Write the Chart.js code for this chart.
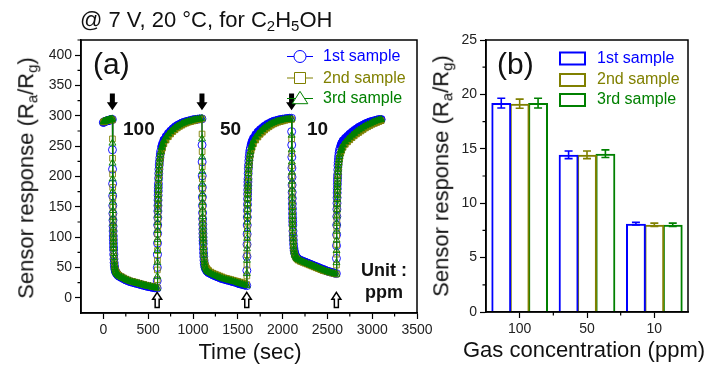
<!DOCTYPE html>
<html>
<head>
<meta charset="utf-8">
<script src="https://cdn.jsdelivr.net/npm/chart.js@4.4.0/dist/chart.umd.min.js"></script>
<style>
html, body { margin: 0; padding: 0; background: #fff; }
body { width: 711px; height: 369px; position: relative; overflow: hidden; font-family: 'Liberation Sans', Arial, sans-serif; color: #111; }
.box { position: absolute; top: 0; height: 369px; }
.t { position: absolute; line-height: 1; white-space: nowrap; }
.s { font-size: 0.68em; vertical-align: -0.3em; }
.b { font-weight: bold; }
</style>
</head>
<body>
<div class="box" style="left:0;width:445px"><canvas id="timeChart"></canvas></div>
<div class="box" style="left:420px;width:291px"><canvas id="barChart"></canvas></div>

<div class="t" style="left:80px;top:9px;font-size:22px">@ 7 V, 20 °C, for C<span class="s">2</span>H<span class="s">5</span>OH</div>
<div class="t" style="left:93px;top:49px;font-size:30px">(a)</div>
<div class="t" style="left:497px;top:49px;font-size:30px">(b)</div>
<div class="t b" style="left:123px;top:119px;font-size:19px">100</div>
<div class="t b" style="left:220px;top:119px;font-size:19px">50</div>
<div class="t b" style="left:307px;top:119px;font-size:19px">10</div>
<div class="t b" style="left:361px;top:261px;font-size:18px">Unit :</div>
<div class="t b" style="left:365px;top:283px;font-size:18px">ppm</div>

<div class="t" style="left:323px;top:48px;font-size:16px;color:#0000ff">1st sample</div>
<div class="t" style="left:323px;top:70px;font-size:16px;color:#808000">2nd sample</div>
<div class="t" style="left:323px;top:90px;font-size:16px;color:#008000">3rd sample</div>
<div class="t" style="left:597px;top:50px;font-size:16px;color:#0000ff">1st sample</div>
<div class="t" style="left:597px;top:71px;font-size:16px;color:#808000">2nd sample</div>
<div class="t" style="left:597px;top:91px;font-size:16px;color:#008000">3rd sample</div>

<div class="t" style="left:28px;top:178px;font-size:22px;transform:translate(-50%,-50%) rotate(-90deg)">Sensor response (R<span class="s">a</span>/R<span class="s">g</span>)</div>
<div class="t" style="left:443px;top:176px;font-size:22px;transform:translate(-50%,-50%) rotate(-90deg)">Sensor response (R<span class="s">a</span>/R<span class="s">g</span>)</div>
<div class="t" style="left:250px;top:341px;font-size:22px;transform:translateX(-50%)">Time (sec)</div>
<div class="t" style="left:584px;top:339px;font-size:22px;transform:translateX(-50%)">Gas concentration (ppm)</div>

<script>
// time axis (sec), shared by the three samples
const times = [
	0, 10, 20, 30, 40, 50, 60, 70, 80, 90,
	100, 101, 102, 103, 104, 105, 106, 107, 108, 109, 110, 111, 112, 113, 114, 116, 118, 120, 123, 126, 130, 135, 140, 150, 160, 175, 200, 225, 250, 275, 300, 325, 350, 375, 400, 425, 450, 475, 500, 525, 550, 575,
	600, 601, 602, 603, 604, 605, 606, 607, 608, 609, 610, 611, 612, 613, 614, 616, 618, 620, 623, 626, 630, 635, 640, 650, 660, 675, 700, 725, 750, 775, 800, 825, 850, 875, 900, 925, 950, 975, 1000, 1025, 1050, 1075,
	1100, 1101, 1102, 1103, 1104, 1105, 1106, 1107, 1108, 1109, 1110, 1111, 1112, 1113, 1114, 1116, 1118, 1120, 1123, 1126, 1130, 1135, 1140, 1150, 1160, 1175, 1200, 1225, 1250, 1275, 1300, 1325, 1350, 1375, 1400, 1425, 1450, 1475, 1500, 1525, 1550, 1575,
	1600, 1601, 1602, 1603, 1604, 1605, 1606, 1607, 1608, 1609, 1610, 1611, 1612, 1613, 1614, 1616, 1618, 1620, 1623, 1626, 1630, 1635, 1640, 1650, 1660, 1675, 1700, 1725, 1750, 1775, 1800, 1825, 1850, 1875, 1900, 1925, 1950, 1975, 2000, 2025, 2050, 2075,
	2100, 2101, 2102, 2103, 2104, 2105, 2106, 2107, 2108, 2109, 2110, 2111, 2112, 2113, 2114, 2116, 2118, 2120, 2123, 2126, 2130, 2135, 2140, 2150, 2160, 2175, 2200, 2225, 2250, 2275, 2300, 2325, 2350, 2375, 2400, 2425, 2450, 2475, 2500, 2525, 2550, 2575,
	2600, 2601, 2602, 2603, 2604, 2605, 2606, 2607, 2608, 2609, 2610, 2611, 2612, 2613, 2614, 2616, 2618, 2620, 2623, 2626, 2630, 2635, 2640, 2650, 2660, 2675, 2700, 2725, 2750, 2775, 2800, 2825, 2850, 2875, 2900, 2925, 2950, 2975, 3000, 3025, 3050, 3075,
	3100
];

const sample1 = [
	289, 290, 291, 291, 292, 292, 293, 293, 293, 294,
	294, 244, 212, 188, 168, 152, 139, 128, 118, 110, 102, 96, 90, 84, 79, 71, 64, 58, 53, 49, 46, 43.5, 41.5, 39.5, 37.5, 35.5, 33.5, 31.5, 29.5, 28, 26.5, 25.5, 24.5, 23.5, 22.5, 21.5, 20.5, 19.5, 18.5, 18, 17, 16.5,
	16, 28, 50, 71, 90, 106, 120, 132, 143, 152, 161, 169, 176, 182, 188, 197, 205, 212, 219, 225, 231, 237, 242, 249, 254, 260, 266, 271, 275, 278.5, 281.5, 284, 286, 288, 289.5, 290.5, 291.5, 292.5, 293.5, 294, 294.5, 295,
	295, 252, 224, 201, 182, 166, 152, 140, 130, 121, 113, 106, 100, 94, 89, 81, 74, 68, 62, 57, 53, 50, 48, 45.5, 43.5, 41.5, 39.5, 37.5, 36, 34.5, 33, 31.5, 30.5, 29.5, 28.5, 27.5, 26.5, 25.5, 24, 23, 22, 21,
	20, 45, 68, 88, 105, 120, 133, 144, 154, 163, 171, 178, 185, 191, 196, 205, 213, 219, 226, 232, 238, 243, 247, 253, 258, 263, 269, 273.5, 277, 280, 283, 285.5, 287.5, 289.5, 291, 292, 293, 294, 294.5, 295, 295.5, 296,
	296, 274, 252, 232, 214, 199, 186, 174, 164, 155, 147, 139, 132, 126, 120, 110, 102, 95, 88, 82, 78, 74, 71.5, 68, 66, 64, 62, 60.5, 59, 57.5, 56, 54.5, 53, 51.5, 50, 48.5, 47, 45.5, 44, 43, 42, 41,
	40, 65, 86, 104, 120, 134, 146, 156, 165, 173, 180, 187, 193, 198, 203, 211, 218, 223, 229, 234, 239, 243, 246, 251, 255, 259, 263, 266.5, 270, 273, 276, 278.5, 281, 283, 285, 287, 288.5, 290, 291, 292, 293, 294,
	294
];

const sample2 = [
	290, 290, 291, 292, 292, 292, 293, 293, 294, 294,
	293, 262, 230, 204, 182, 164, 149, 136, 125, 116, 108, 101, 94, 88, 83, 75, 68, 62, 55, 51, 48, 45, 43, 41, 39, 37, 35, 33, 31, 29.5, 28, 27, 26, 25, 24, 23, 22, 21, 20, 19.5, 18.5, 18,
	17, 30, 46, 62, 78, 92, 105, 117, 128, 138, 147, 155, 163, 170, 176, 186, 195, 202, 210, 216, 223, 229, 234, 242, 247, 254, 260, 265.5, 270, 274, 277, 280, 282.5, 284.5, 286.5, 288, 289.5, 290.5, 291.5, 292.5, 293.5, 294,
	295, 270, 241, 216, 196, 179, 164, 151, 140, 130, 122, 114, 107, 101, 96, 87, 80, 74, 67, 62, 58, 55, 52.5, 49.5, 47, 45, 42.5, 40.5, 39, 37.5, 36, 34.5, 33, 32, 31, 30, 29, 28, 27, 26, 25, 24,
	22, 36, 54, 71, 87, 101, 114, 126, 137, 147, 156, 164, 171, 177, 183, 192, 200, 206, 213, 219, 225, 231, 236, 243, 248, 254, 260, 265, 269.5, 273, 276.5, 279.5, 282, 284.5, 286.5, 288, 289.5, 290.5, 291.5, 292.5, 293.5, 294,
	294, 262, 238, 218, 201, 186, 173, 162, 152, 143, 135, 128, 122, 116, 111, 102, 95, 89, 83, 78, 74, 71, 69, 66, 64, 62, 60, 58.5, 57, 55.5, 54, 52.5, 51, 49.5, 48, 46.5, 45, 44, 43, 42, 41, 40,
	39, 54, 72, 88, 102, 115, 127, 138, 147, 156, 164, 171, 177, 183, 188, 196, 203, 208, 214, 219, 224, 229, 233, 239, 243, 248, 253, 257, 260.5, 264, 267, 270, 272.5, 275, 277.5, 280, 282, 284, 286, 287.5, 289, 290.5,
	292
];

const sample3 = [
	290, 291, 291, 292, 292, 293, 293, 294, 294, 294,
	295, 255, 222, 196, 175, 158, 144, 132, 122, 113, 105, 98, 92, 86, 81, 73, 66, 60, 54, 50, 47, 44, 42, 40, 38, 36, 34, 32, 30, 28.5, 27, 26, 25, 24, 23, 22, 21, 20, 19, 18.5, 17.5, 17,
	16, 35, 58, 78, 96, 111, 124, 136, 146, 155, 163, 170, 177, 183, 188, 197, 205, 211, 218, 224, 230, 236, 241, 248, 253, 259, 265, 270, 274, 277.5, 280.5, 283, 285, 287, 288.5, 290, 291, 292, 293, 294, 294.5, 295,
	296, 262, 232, 208, 188, 171, 157, 145, 134, 125, 117, 110, 103, 97, 92, 83, 76, 70, 63, 58, 54, 51, 49, 46, 44, 42, 40, 38, 36.5, 35, 33.5, 32, 31, 30, 29, 28, 27, 26, 24.5, 23.5, 22.5, 21.5,
	20, 40, 62, 81, 98, 112, 125, 136, 146, 155, 163, 170, 177, 183, 188, 197, 205, 211, 218, 224, 230, 236, 241, 248, 253, 259, 265, 270, 274, 277.5, 280.5, 283, 285.5, 287.5, 289, 290.5, 291.5, 292.5, 293.5, 294, 294.5, 295,
	295, 268, 244, 224, 207, 192, 179, 168, 158, 149, 141, 134, 127, 121, 115, 106, 98, 92, 85, 80, 76, 72, 70, 67, 65, 63, 61, 59.5, 58, 56.5, 55, 53.5, 52, 50.5, 49, 47.5, 46, 44.5, 43, 42, 41, 40,
	39, 58, 78, 95, 110, 123, 135, 145, 154, 162, 169, 176, 182, 187, 192, 200, 207, 212, 218, 223, 228, 233, 237, 243, 247, 252, 257, 261, 264.5, 268, 271, 274, 276.5, 279, 281.5, 283.5, 285.5, 287, 289, 290.5, 292, 293,
	294
];

const timeTicks = [0, 500, 1000, 1500, 2000, 2500, 3000, 3500];
const responseTicks = [0, 50, 100, 150, 200, 250, 300, 350, 400];
const gasInTimes = [100, 1100, 2100];
const gasOutTimes = [600, 1600, 2600];

// panel (b)
const concLabels = ['100', '50', '10'];
const resp1 = [19.2, 14.45, 8.12];
const resp2 = [19.15, 14.45, 8.02];
const resp3 = [19.2, 14.55, 8.02];
const err1 = [0.45, 0.35, 0.12];
const err2 = [0.42, 0.35, 0.15];
const err3 = [0.45, 0.35, 0.15];
const barTicks = [0, 5, 10, 15, 20, 25];

const BLUE = '#0000ff';
const OLIVE = '#808000';
const GREEN = '#008000';

Chart.defaults.font.family = "'Liberation Sans', Arial, sans-serif";

const axisFont = {size: 14};
const gridStyle = {display: true, drawOnChartArea: false, drawTicks: true, tickLength: 6, tickWidth: 1.2, tickColor: '#000'};
const borderStyle = {display: true, color: '#000', width: 1.5};
const tickStyle = {font: axisFont, color: '#222', padding: 3, maxRotation: 0, autoSkip: false, callback: v => String(v)};
const catTickStyle = {font: axisFont, color: '#222', padding: 3, maxRotation: 0, autoSkip: false};

// slow parts of the curve (sparse time steps) show as a solid band
function isSlow(i) {
	const prev = i > 0 ? times[i] - times[i - 1] : 99;
	const next = i < times.length - 1 ? times[i + 1] - times[i] : 99;
	return Math.min(prev, next) >= 10;
}

function makeSeries(label, values, color, style, order) {
	return {
		label: label,
		data: times.map((t, i) => ({x: t, y: values[i]})),
		borderColor: color,
		borderWidth: 1,
		pointStyle: style,
		pointRadius: 4,
		pointBorderWidth: 0.9,
		pointBorderColor: color,
		pointBackgroundColor: c => isSlow(c.dataIndex) ? color : 'rgba(255,255,255,0)',
		tension: 0,
		order: order
	};
}

function drawMarker(ctx, style, x, y, r) {
	ctx.beginPath();
	if (style === 'circle') {
		ctx.arc(x, y, r, 0, Math.PI * 2);
	} else if (style === 'rect') {
		ctx.rect(x - r, y - r, 2 * r, 2 * r);
	} else {
		ctx.moveTo(x, y - r * 1.1);
		ctx.lineTo(x + r * 1.2, y + r * 0.8);
		ctx.lineTo(x - r * 1.2, y + r * 0.8);
		ctx.closePath();
	}
	ctx.fillStyle = '#fff';
	ctx.fill();
	ctx.stroke();
}

// box frame + minor ticks, shared by both panels
function drawFrame(chart, xMinor, yMinor) {
	const {ctx, chartArea: a, scales: {x, y}} = chart;
	ctx.save();
	ctx.strokeStyle = '#000';
	ctx.lineWidth = 1.5;
	ctx.strokeRect(a.left, a.top, a.right - a.left, a.bottom - a.top);
	ctx.lineWidth = 1.2;
	ctx.beginPath();
	xMinor.forEach(v => {
		const px = x.getPixelForValue(v);
		ctx.moveTo(px, a.bottom);
		ctx.lineTo(px, a.bottom + 3.5);
	});
	yMinor.forEach(v => {
		const py = y.getPixelForValue(v);
		ctx.moveTo(a.left, py);
		ctx.lineTo(a.left - 3.5, py);
	});
	ctx.stroke();
	ctx.restore();
}

const timePlugin = {
	id: 'timeDecor',
	afterDraw(chart) {
		const {ctx, chartArea: a, scales: {x, y}} = chart;
		drawFrame(chart, timeTicks.slice(0, -1).map(v => v + 250), responseTicks.map(v => v + 25));

		ctx.save();
		// gas in: filled arrows
		ctx.fillStyle = '#000';
		gasInTimes.forEach(t => {
			const px = x.getPixelForValue(t);
			const top = y.getPixelForValue(337);
			const tip = y.getPixelForValue(309);
			ctx.beginPath();
			ctx.moveTo(px - 2.5, top);
			ctx.lineTo(px + 2.5, top);
			ctx.lineTo(px + 2.5, tip - 8);
			ctx.lineTo(px + 5.5, tip - 8);
			ctx.lineTo(px, tip);
			ctx.lineTo(px - 5.5, tip - 8);
			ctx.lineTo(px - 2.5, tip - 8);
			ctx.closePath();
			ctx.fill();
		});
		// gas out: hollow arrows
		ctx.strokeStyle = '#000';
		ctx.lineWidth = 1.5;
		gasOutTimes.forEach(t => {
			const px = x.getPixelForValue(t);
			const tip = y.getPixelForValue(9);
			const bottom = y.getPixelForValue(-16);
			ctx.beginPath();
			ctx.moveTo(px, tip);
			ctx.lineTo(px + 4.5, tip + 7);
			ctx.lineTo(px + 2, tip + 7);
			ctx.lineTo(px + 2, bottom);
			ctx.lineTo(px - 2, bottom);
			ctx.lineTo(px - 2, tip + 7);
			ctx.lineTo(px - 4.5, tip + 7);
			ctx.closePath();
			ctx.fillStyle = '#fff';
			ctx.fill();
			ctx.stroke();
		});

		// legend symbols
		const rows = [
			[BLUE, 'circle', 6, a.top + 16.5],
			[OLIVE, 'rect', 5.5, a.top + 38],
			[GREEN, 'triangle', 6.5, a.top + 58.5]
		];
		const lx = a.right - 117;
		rows.forEach(([color, style, r, ry]) => {
			ctx.strokeStyle = color;
			ctx.lineWidth = 1;
			ctx.beginPath();
			ctx.moveTo(lx - 13, ry);
			ctx.lineTo(lx + 13, ry);
			ctx.stroke();
			drawMarker(ctx, style, lx, ry, r);
		});
		ctx.restore();
	}
};

const barPlugin = {
	id: 'barDecor',
	afterDatasetsDraw(chart) {
		const {ctx, scales: {y}} = chart;
		const errs = [err1, err2, err3];
		const vals = [resp1, resp2, resp3];
		ctx.save();
		ctx.lineWidth = 1.6;
		chart.data.datasets.forEach((ds, i) => {
			const meta = chart.getDatasetMeta(i);
			ctx.strokeStyle = ds.borderColor;
			meta.data.forEach((bar, j) => {
				const hi = y.getPixelForValue(vals[i][j] + errs[i][j]);
				const lo = y.getPixelForValue(vals[i][j] - errs[i][j]);
				ctx.beginPath();
				ctx.moveTo(bar.x, hi);
				ctx.lineTo(bar.x, lo);
				ctx.moveTo(bar.x - 4, hi);
				ctx.lineTo(bar.x + 4, hi);
				ctx.moveTo(bar.x - 4, lo);
				ctx.lineTo(bar.x + 4, lo);
				ctx.stroke();
			});
		});
		ctx.restore();
	},
	afterDraw(chart) {
		const {ctx, chartArea: a} = chart;
		drawFrame(chart, [0.5, 1.5], barTicks.slice(0, -1).map(v => v + 2.5));
		// legend boxes
		ctx.save();
		ctx.lineWidth = 2;
		[[BLUE, 18.5], [OLIVE, 40], [GREEN, 60]].forEach(([color, dy]) => {
			ctx.strokeStyle = color;
			ctx.strokeRect(a.left + 74, a.top + dy - 6, 25, 12);
		});
		ctx.restore();
	}
};

document.addEventListener('DOMContentLoaded', () => {
	new Chart(document.getElementById('timeChart'), {
		type: 'line',
		data: {
			datasets: [
				makeSeries('1st sample', sample1, BLUE, 'circle', 3),
				makeSeries('2nd sample', sample2, OLIVE, 'rect', 2),
				makeSeries('3rd sample', sample3, GREEN, 'triangle', 1)
			]
		},
		options: {
			responsive: true,
			maintainAspectRatio: false,
			animation: false,
			devicePixelRatio: 1,
			layout: {padding: {top: 40, right: 28, bottom: 0, left: 0}},
			plugins: {legend: {display: false}, tooltip: {enabled: false}},
			scales: {
				x: {
					type: 'linear',
					min: -250,
					max: 3500,
					afterBuildTicks: s => { s.ticks = timeTicks.map(v => ({value: v})); },
					afterFit: s => { s.height = 56; },
					grid: gridStyle,
					border: borderStyle,
					ticks: tickStyle
				},
				y: {
					min: -25,
					max: 425,
					afterBuildTicks: s => { s.ticks = responseTicks.map(v => ({value: v})); },
					afterFit: s => { s.width = 81; },
					grid: gridStyle,
					border: borderStyle,
					ticks: tickStyle
				}
			}
		},
		plugins: [timePlugin]
	});

	const barSet = (label, data, color) => ({
		label: label,
		data: data,
		borderColor: color,
		backgroundColor: 'rgba(255,255,255,0)',
		borderWidth: 2,
		categoryPercentage: 0.82,
		barPercentage: 1.08
	});

	new Chart(document.getElementById('barChart'), {
		type: 'bar',
		data: {
			labels: concLabels,
			datasets: [
				barSet('1st sample', resp1, BLUE),
				barSet('2nd sample', resp2, OLIVE),
				barSet('3rd sample', resp3, GREEN)
			]
		},
		options: {
			responsive: true,
			maintainAspectRatio: false,
			animation: false,
			devicePixelRatio: 1,
			layout: {padding: {top: 40, right: 23, bottom: 0, left: 0}},
			plugins: {legend: {display: false}, tooltip: {enabled: false}},
			scales: {
				x: {
					afterFit: s => { s.height = 57; },
					grid: Object.assign({}, gridStyle, {offset: false}),
					border: borderStyle,
					ticks: catTickStyle
				},
				y: {
					min: 0,
					max: 25,
					afterBuildTicks: s => { s.ticks = barTicks.map(v => ({value: v})); },
					afterFit: s => { s.width = 66; },
					grid: gridStyle,
					border: borderStyle,
					ticks: tickStyle
				}
			}
		},
		plugins: [barPlugin]
	});
});
</script>
</body>
</html>
